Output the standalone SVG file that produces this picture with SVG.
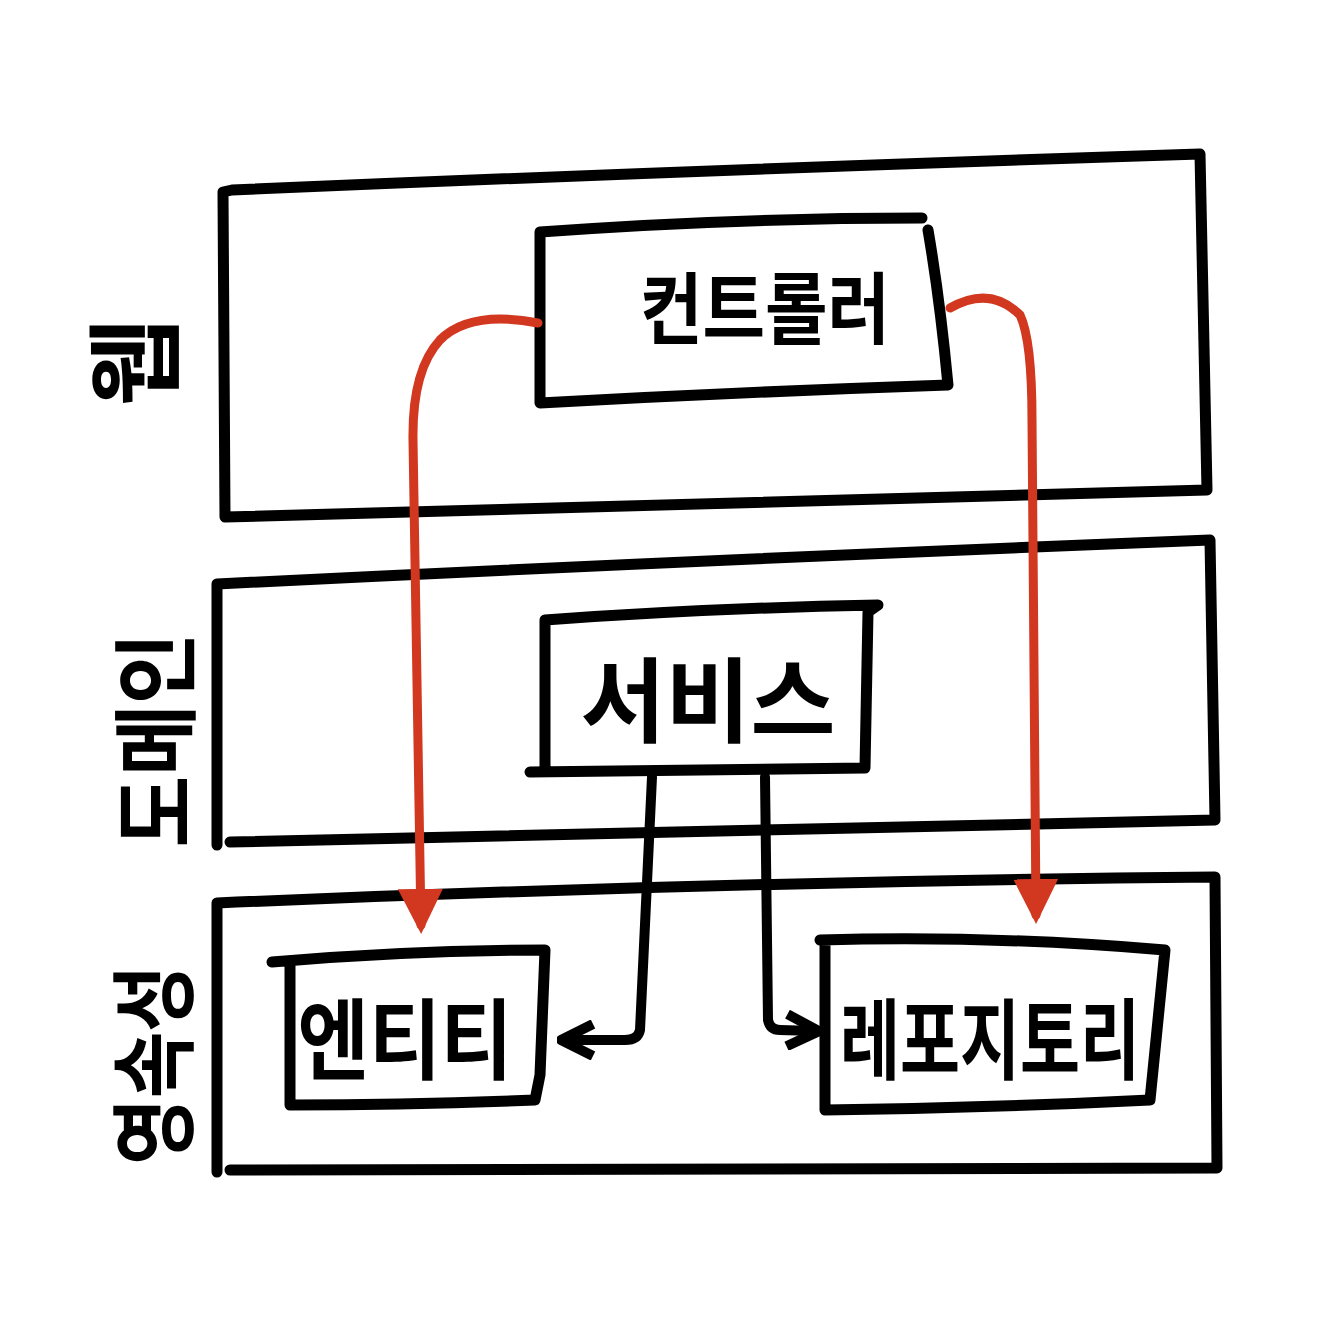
<svg xmlns="http://www.w3.org/2000/svg" width="1343" height="1318" viewBox="0 0 1343 1318">
<style>
.box{fill:none;stroke:#000;stroke-width:11;stroke-linejoin:round;stroke-linecap:round}
.lbl{font-family:"Noto Sans CJK KR","Noto Sans",sans-serif;font-weight:700;fill:#000}
.red{fill:none;stroke:#d2371f;stroke-width:9;stroke-linecap:round;stroke-linejoin:round}
.blk{fill:none;stroke:#000;stroke-width:10;stroke-linecap:round;stroke-linejoin:round}
</style>
<defs>
<marker id="ar" viewBox="0 0 10 10" refX="8" refY="5" markerWidth="5" markerHeight="5" orient="auto" markerUnits="strokeWidth">
<path d="M0,0 L10,5 L0,10 Z" fill="#d2371f"/>
</marker>
<marker id="ab" viewBox="0 0 10 10" refX="8" refY="5" markerWidth="4" markerHeight="4" orient="auto" markerUnits="strokeWidth">
<path d="M1,1 L9,5 L1,9" fill="none" stroke="#000" stroke-width="2.5" stroke-linejoin="round"/>
</marker>
</defs>
<rect width="1343" height="1318" fill="#fff"/>
<g id="layer-web">
<path class="box" d="M223,192 L232,190 Q700,170 1200,154 L1207,490 Q700,505 225,517 L223,192"/>
<text class="lbl" font-size="96" transform="translate(170,362) rotate(-90)" text-anchor="middle">웹</text>
</g>
<g id="layer-domain">
<path class="box" d="M217,584 Q700,560 1210,540 L1215,820 Q700,830 230,842 M217,584 L217,845"/>
<text class="lbl" font-size="86" transform="translate(188,740) rotate(-90)" text-anchor="middle" textLength="215" lengthAdjust="spacingAndGlyphs">도메인</text>
</g>
<g id="layer-persistence">
<path class="box" d="M217,903 Q700,882 1215,877 L1217,1168 Q700,1168 230,1170 M217,903 L217,1172"/>
<text class="lbl" font-size="86" transform="translate(186,1065) rotate(-90)" text-anchor="middle" textLength="200" lengthAdjust="spacingAndGlyphs">영속성</text>
</g>
<g id="controller">
<path class="box" d="M540,232 Q730,218 922,218 M928,230 Q940,300 948,385 Q740,392 540,403 L540,232"/>
<text class="lbl" x="765" y="338" font-size="78" text-anchor="middle" textLength="250" lengthAdjust="spacingAndGlyphs">컨트롤러</text>
</g>
<g id="service">
<path class="box" d="M545,620 Q710,608 878,605 L868,612 L865,768 Q700,770 530,772 M545,620 L545,772"/>
<text class="lbl" x="708" y="735" font-size="92" text-anchor="middle" textLength="255" lengthAdjust="spacingAndGlyphs">서비스</text>
</g>
<g id="entity">
<path class="box" d="M272,962 Q410,950 545,950 L540,1075 L535,1100 Q410,1105 290,1105 L290,962"/>
<text class="lbl" x="405" y="1072" font-size="88" text-anchor="middle" textLength="215" lengthAdjust="spacingAndGlyphs">엔티티</text>
</g>
<g id="repository">
<path class="box" d="M820,940 Q990,935 1165,950 L1150,1100 Q990,1108 825,1110 L825,940"/>
<text class="lbl" x="990" y="1072" font-size="88" text-anchor="middle" textLength="300" lengthAdjust="spacingAndGlyphs">레포지토리</text>
</g>
<g id="connectors">
<path class="red" marker-end="url(#ar)" d="M538,323 Q470,310 440,340 Q412,370 413,440 L421,925"/>
<path class="red" marker-end="url(#ar)" d="M950,308 Q990,285 1020,315 Q1032,340 1032,420 L1036,915"/>
<path class="blk" marker-end="url(#ab)" d="M652,777 L640,1030 Q638,1040 625,1040 L565,1040"/>
<path class="blk" marker-end="url(#ab)" d="M765,777 L768,1020 Q770,1030 780,1030 L815,1031"/>
</g>
</svg>
